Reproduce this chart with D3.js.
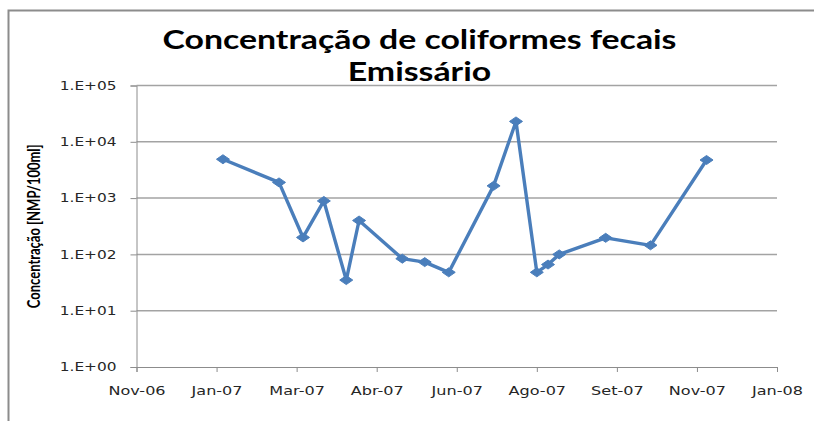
<!DOCTYPE html>
<html>
<head>
<meta charset="utf-8">
<script src="https://cdn.jsdelivr.net/npm/d3@7"></script>
<style>
  body { margin: 0; background: #fff; }
  svg { display: block; }
</style>
</head>
<body>
<div id="chart"></div>
<script>
// Sampling dates and values (NMP/100ml)
const dates = [
  "2007-01-23", "2007-02-27", "2007-03-14", "2007-03-27", "2007-04-10",
  "2007-04-18", "2007-05-15", "2007-05-29", "2007-06-13", "2007-07-11",
  "2007-07-25", "2007-08-07", "2007-08-14", "2007-08-21", "2007-09-19",
  "2007-10-17", "2007-11-21"
];
const values = [
  4900, 1900, 200, 890, 35,
  400, 84, 73, 48, 1650,
  23000, 48, 66, 100, 197,
  145, 4750
];
const yTicks = [1, 10, 100, 1000, 10000, 100000];
const monthNames = ["Jan", "Fev", "Mar", "Abr", "Mai", "Jun", "Jul", "Ago", "Set", "Out", "Nov", "Dez"];

const parse = d3.timeParse("%Y-%m-%d");
const data = dates.map((d, i) => ({ date: parse(d), value: values[i] }));

const W = 814, H = 421;
const margin = { top: 85.5, right: 37, bottom: 54, left: 136.5 },
    width = W - margin.left - margin.right,
    height = H - margin.top - margin.bottom;

// the original picture is stretched sideways, so text is widened too
const stretch = 1.28;

const svg = d3.select("#chart")
  .append("svg")
    .attr("width", W)
    .attr("height", H);

// outer chart frame (only top and left edges show)
svg.append("path")
  .attr("d", `M8.5,${H + 2}V10.5H${W + 2}`)
  .attr("fill", "none")
  .attr("stroke", "#8c8c8c")
  .attr("stroke-width", 2);

// title, two lines
const titleLines = ["Concentração de coliformes fecais", "Emissário"];
svg.append("g")
  .attr("transform", `translate(419.5,0) scale(1.3,1)`)
  .selectAll("text")
  .data(titleLines)
  .join("text")
    .attr("x", 0)
    .attr("y", (d, i) => 49 + i * 32)
    .attr("text-anchor", "middle")
    .attr("font-family", "Lato, 'Open Sans', sans-serif")
    .attr("font-weight", "bold")
    .attr("font-size", 26)
    .attr("fill", "#000")
    .text(d => d);

const g = svg.append("g")
  .attr("transform", `translate(${margin.left},${margin.top})`);

// X scale: Excel style date axis, major unit 50 days
const t0 = parse("2006-11-30");
const xTicks = d3.range(9).map(i => d3.timeDay.offset(t0, i * 50));
const x = d3.scaleTime()
  .domain([t0, xTicks[xTicks.length - 1]])
  .range([0, width]);

const y = d3.scaleLog()
  .domain([1, 100000])
  .range([height, 0]);

// gridlines
g.append("g")
  .selectAll("line")
  .data(yTicks.slice(1))
  .join("line")
    .attr("x1", 0)
    .attr("x2", width)
    .attr("y1", d => y(d))
    .attr("y2", d => y(d))
    .attr("stroke", "#a3a3a3")
    .attr("stroke-width", 1.5);

// Y axis
const yAxis = g.append("g")
  .call(d3.axisLeft(y)
    .tickValues(yTicks)
    .tickSize(6)
    .tickPadding(14)
    .tickFormat(d => "1.E+" + String(Math.round(Math.log10(d))).padStart(2, "0")));

// X axis
const xAxis = g.append("g")
  .attr("transform", `translate(0,${height})`)
  .call(d3.axisBottom(x)
    .tickValues(xTicks)
    .tickSize(5)
    .tickFormat(d => monthNames[d.getMonth()] + "-" + String(d.getFullYear()).slice(2)));

[yAxis, xAxis].forEach(ax => {
  ax.select(".domain").attr("stroke", "#8c8c8c");
  ax.selectAll(".tick line").attr("stroke", "#8c8c8c");
  ax.selectAll("text")
    .attr("font-family", "'DejaVu Sans', Verdana, sans-serif")
    .attr("font-size", 12)
    .attr("fill", "#262626");
});

// widen tick labels around their anchor point
yAxis.selectAll(".tick text").each(function() {
  const t = d3.select(this);
  const x0 = +t.attr("x");
  t.attr("x", 0).attr("transform", `translate(${x0},0) scale(${stretch},1)`);
});
xAxis.selectAll(".tick text").each(function() {
  const t = d3.select(this);
  t.attr("y", 0).attr("dy", null)
    .attr("transform", `translate(0,28) scale(${stretch + 0.06},1)`);
});

// y axis title
svg.append("text")
  .attr("transform", `translate(39.5,${margin.top + height / 2}) scale(1.3,1) rotate(-90)`)
  .attr("text-anchor", "middle")
  .attr("font-family", "Lato, 'Open Sans', sans-serif")
  .attr("font-weight", "bold")
  .attr("font-size", 13)
  .attr("fill", "#000")
  .text("Concentração [NMP/100ml]");

// series line
const line = d3.line()
  .x(d => x(d.date))
  .y(d => y(d.value));

g.append("path")
  .datum(data)
  .attr("fill", "none")
  .attr("stroke", "#4a7ebb")
  .attr("stroke-width", 3.4)
  .attr("stroke-linejoin", "round")
  .attr("d", line);

// diamond markers
g.selectAll(".marker")
  .data(data)
  .join("path")
    .attr("class", "marker")
    .attr("d", "M-6.5,0L0,-4.5L6.5,0L0,4.5Z")
    .attr("transform", d => `translate(${x(d.date)},${y(d.value)})`)
    .attr("fill", "#4a7ebb")
    .attr("stroke", "#4a7ebb")
    .attr("stroke-width", 1);
</script>
</body>
</html>
